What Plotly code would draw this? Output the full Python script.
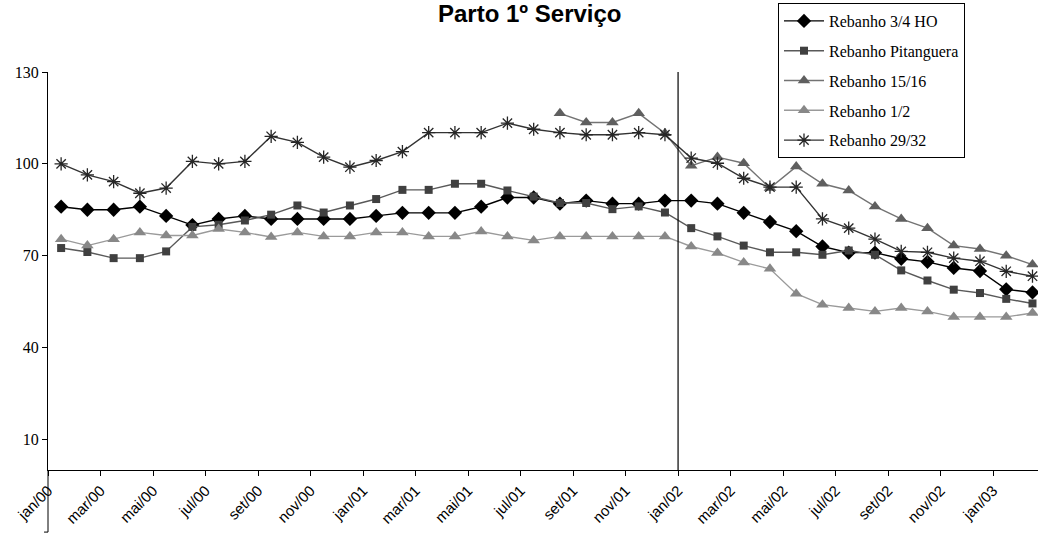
import plotly.graph_objects as go

months = ["jan/00","fev/00","mar/00","abr/00","mai/00","jun/00","jul/00","ago/00","set/00","out/00","nov/00","dez/00",
          "jan/01","fev/01","mar/01","abr/01","mai/01","jun/01","jul/01","ago/01","set/01","out/01","nov/01","dez/01",
          "jan/02","fev/02","mar/02","abr/02","mai/02","jun/02","jul/02","ago/02","set/02","out/02","nov/02","dez/02",
          "jan/03","fev/03"]

ho_34 = [86, 85, 85, 86, 83, 80, 82, 83, 82, 82, 82, 82,
         83, 84, 84, 84, 86, 89, 89, 87, 88, 87, 87, 88,
         88, 87, 84, 81, 78, 73, 71, 71, 69, 68, 66, 65, 59, 58]
pitanguera = [72.5, 71.2, 69.2, 69.2, 71.4, 79.4, 80.1, 81.5, 83.4, 86.4, 84.1, 86.4,
              88.5, 91.5, 91.5, 93.5, 93.5, 91.3, 89.3, 87.2, 87.2, 85.2, 86.1, 84.1,
              79.0, 76.3, 73.3, 71.1, 71.1, 70.3, 71.7, 70.3, 65.2, 61.9, 58.9, 57.8, 55.9, 54.4]
r_15_16 = [None]*19 + [116.5, 113.5, 113.5, 116.5, 110,
                       99.4, 102.2, 100.2, 92.1, 99.1, 93.5, 91.3, 86.1, 82, 79, 73.3, 72.2, 70, 67.1]
r_1_2 = [75.4, 73.3, 75.4, 77.6, 76.6, 76.6, 78.7, 77.6, 76.1, 77.6, 76.3, 76.3,
         77.6, 77.6, 76.3, 76.3, 77.9, 76.3, 75, 76.3, 76.3, 76.3, 76.3, 76.3,
         73, 70.9, 67.8, 65.7, 57.6, 54, 52.9, 51.8, 52.9, 51.8, 50, 50, 50, 51.3]
r_29_32 = [100, 96.4, 94.2, 90.4, 92.1, 100.8, 100, 100.8, 109, 107, 102.2, 98.9,
           101.1, 104, 110.2, 110.2, 110.2, 113.3, 111.3, 110.2, 109.5, 109.5, 110.2, 109.5,
           101.9, 100.2, 95.3, 92.4, 92.4, 82, 79, 75.4, 71.4, 71.1, 69.2, 68.2, 64.9, 63.3]

y_ticks = [10, 40, 70, 100, 130]
divider_month = "jan/02"

idx = list(range(len(months)))
tick_pos = [i - 0.5 for i in idx[::2]]
tick_txt = months[::2]

series = [
    ("Rebanho 3/4 HO", ho_34, "diamond", "#000000", "#000000", 11),
    ("Rebanho Pitanguera", pitanguera, "square", "#404040", "#595959", 8),
    ("Rebanho 15/16", r_15_16, "triangle-up", "#5f5f5f", "#737373", 11),
    ("Rebanho 1/2", r_1_2, "triangle-up", "#888888", "#9a9a9a", 11),
    ("Rebanho 29/32", r_29_32, "asterisk-open", "#262626", "#333333", 11),
]

fig = go.Figure()
for name, vals, sym, mcol, lcol, sz in series:
    fig.add_trace(go.Scatter(
        x=idx, y=vals, name=name, mode="lines+markers",
        line=dict(color=lcol, width=1.4),
        marker=dict(symbol=sym, size=sz, color=mcol,
                    line=dict(color=mcol, width=1.3 if sym == "asterisk-open" else 0)),
        legendgroup=name, connectgaps=False,
    ))

dx = months.index(divider_month) - 0.5
fig.add_shape(type="line", xref="x", yref="paper", x0=dx, x1=dx, y0=0, y1=1,
              line=dict(color="black", width=1.2))
fig.add_shape(type="line", xref="paper", yref="paper", x0=0, x1=0, y0=0, y1=-0.156,
              line=dict(color="black", width=1))
fig.add_shape(type="line", xref="paper", yref="paper", x0=-0.004, x1=0, y0=-0.156, y1=-0.156,
              line=dict(color="black", width=1))

fig.add_annotation(text="<b>Parto 1º Serviço</b>", xref="paper", yref="paper",
                   x=(530 - 48) / 990, y=1 + (72 - 14) / 398, xanchor="center", yanchor="middle",
                   showarrow=False, font=dict(family="Liberation Sans, Arial", size=24, color="black"))

fig.update_layout(
    width=1038, height=535,
    margin=dict(l=48, r=0, t=72, b=65, autoexpand=False),
    paper_bgcolor="white", plot_bgcolor="white",
    showlegend=True,
    legend=dict(xref="container", yref="container", x=778 / 1038, y=1 - 3 / 535,
                xanchor="left", yanchor="top", bgcolor="white",
                bordercolor="black", borderwidth=1,
                font=dict(family="Liberation Serif, Times New Roman", size=16, color="black"),
                tracegroupgap=6, traceorder="grouped", itemwidth=40),
    xaxis=dict(range=[-0.5, 37.21], tickmode="array", tickvals=tick_pos, ticktext=tick_txt,
               tickangle=-45, ticks="outside", ticklen=5, tickcolor="black",
               showline=True, linecolor="black", linewidth=1, showgrid=False, zeroline=False,
               tickfont=dict(family="Liberation Sans, Arial", size=15, color="black")),
    yaxis=dict(range=[0, 130], tickmode="array", tickvals=y_ticks,
               ticks="outside", ticklen=5, tickcolor="black",
               showline=True, linecolor="black", linewidth=1, showgrid=False, zeroline=False,
               tickfont=dict(family="Liberation Serif, Times New Roman", size=16, color="black")),
)

fig.write_html("out.html", config={"displayModeBar": False},
               post_script="document.body.style.margin='0px';")
